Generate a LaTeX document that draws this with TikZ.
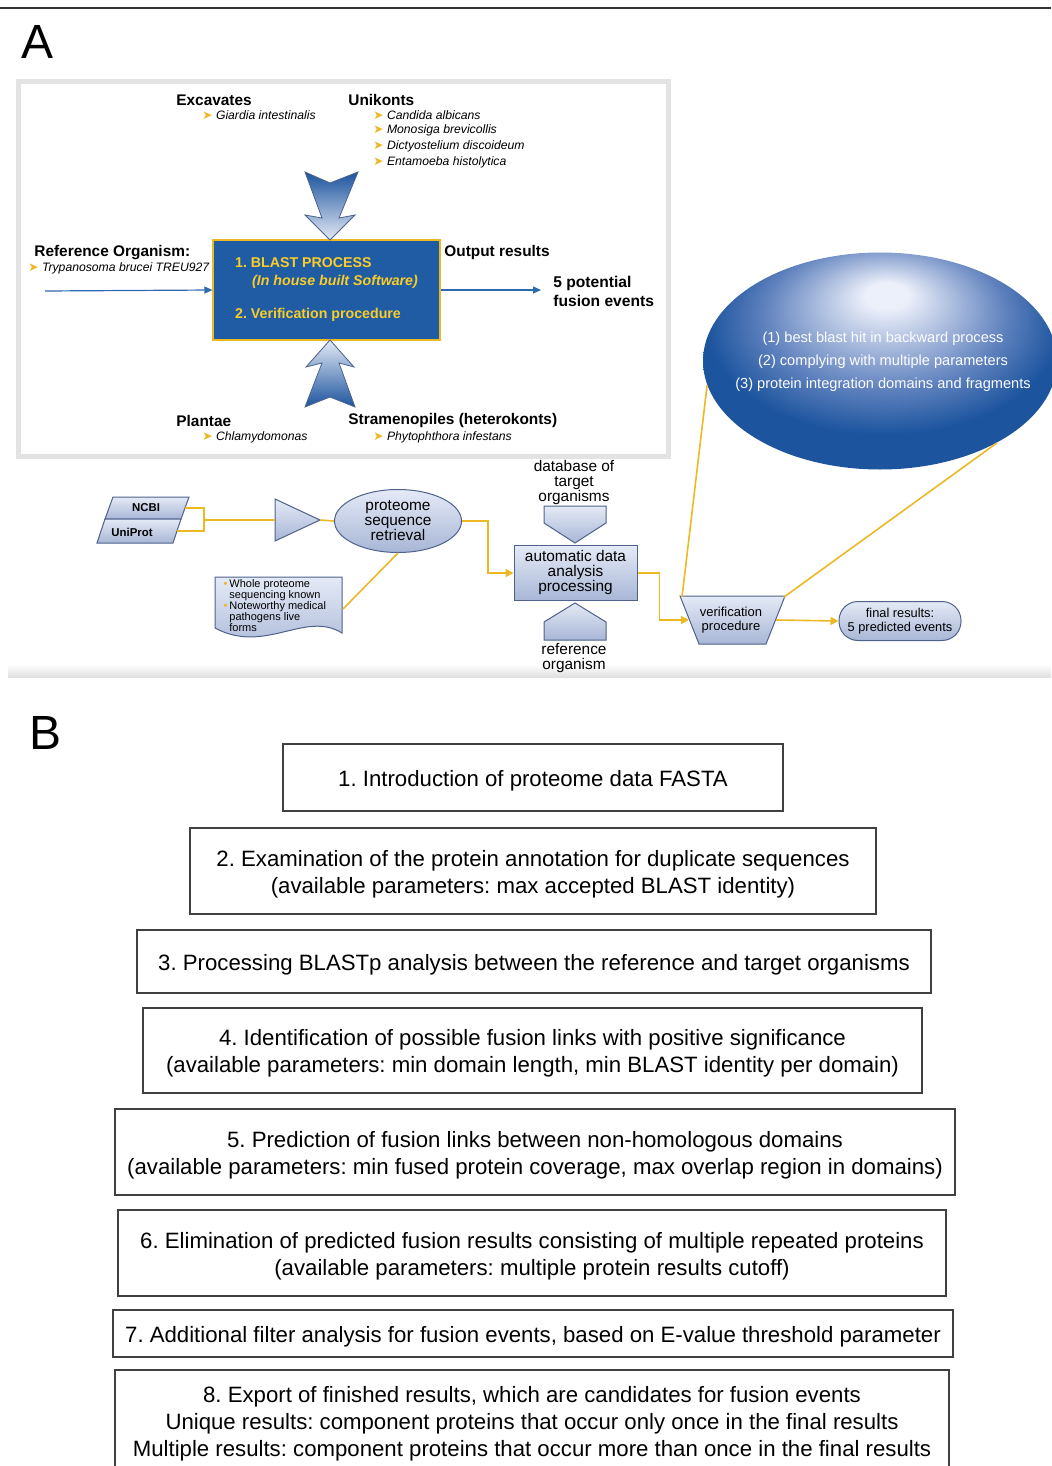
\documentclass[tikz,border=0pt]{standalone}
\usepackage{fontspec}
\setmainfont{Liberation Sans}
\newfontfamily\dingfont{DejaVu Sans}
\usetikzlibrary{shapes.geometric,arrows.meta}
\frenchspacing

\definecolor{blastblue}{RGB}{31,92,164}
\definecolor{deepblue}{RGB}{28,84,158}
\definecolor{softblue}{RGB}{96,130,190}
\definecolor{paleblue}{RGB}{228,234,246}
\definecolor{hiblue}{RGB}{236,240,250}
\definecolor{lightblue}{RGB}{176,192,224}
\definecolor{midblue}{RGB}{168,182,214}
\definecolor{edgeblue}{RGB}{78,98,140}
\definecolor{ylw}{RGB}{236,184,36}
\definecolor{boxyellow}{RGB}{250,204,40}
\definecolor{linkblue}{RGB}{45,105,175}

\newcommand\arr{{\upshape\dingfont\textcolor{ylw}{➤}}}
\newcommand\steplines[1]{\raisebox{-1.7pt}[\height][\depth]{\begin{tabular}{@{}c@{}}#1\end{tabular}}}

\pgfdeclareradialshading{blobshade}{\pgfpoint{1bp}{16bp}}{%
  color(0bp)=(hiblue); color(3bp)=(hiblue); color(9bp)=(lightblue);
  color(17bp)=(softblue); color(25bp)=(deepblue); color(50bp)=(deepblue)}

\begin{document}
\begin{tikzpicture}[x=0.5pt,y=-0.5pt,
  step box/.style={draw=black!75,line width=0.7pt,inner sep=0pt,
    font=\fontsize{11.1}{13.5}\selectfont},
  group head/.style={anchor=west,inner sep=0pt,font=\fontsize{7.7}{9}\selectfont\bfseries},
  group item/.style={anchor=west,inner sep=0pt,font=\fontsize{6.1}{7.8}\selectfont\itshape},
  flow shape/.style={draw=edgeblue,line width=0.5pt,top color=paleblue,bottom color=midblue},
  flow text/.style={inner sep=0pt,align=center,font=\fontsize{7.7}{7.5}\selectfont},
  ylw line/.style={draw=ylw,line width=0.8pt},
  ylw arrow/.style={ylw line,-{Triangle[length=4pt,width=4pt]}},
  blue link/.style={draw=linkblue,line width=0.6pt,-{Triangle[length=4pt,width=3.5pt]}}]

  \useasboundingbox (0,0) rectangle (1051,1466);
  \draw[black!80,line width=0.8pt] (0,8) -- (1051,8);
  \shade[top color=white,bottom color=black!12] (8,664) rectangle (1051,677);

  % panel A
  \node[font=\fontsize{24}{24}\selectfont,inner sep=0pt] (label a) at (38,42) {A};
  \draw[gray!22,line width=2.5pt] (18,82) rectangle (668,456);

  \node[group head] (excavates) at (176,100) {Excavates};
  \node[group item] (giardia) at (202,115) {\arr\ Giardia intestinalis};
  \node[group head] (unikonts) at (348,100) {Unikonts};
  \node[group item] (candida) at (373,115) {\arr\ Candida albicans};
  \node[group item] (monosiga) at (373,130) {\arr\ Monosiga brevicollis};
  \node[group item] (dicty) at (373,146) {\arr\ Dictyostelium discoideum};
  \node[group item] (entamoeba) at (373,162) {\arr\ Entamoeba histolytica};
  \node[group head] (reforg) at (34,253) {Reference Organism:};
  \node[group item] (trypano) at (28,268) {\arr\ Trypanosoma brucei TREU927};
  \node[group head] (outres) at (444,253) {Output results};
  \node[group head,align=left,font=\fontsize{7.8}{9.5}\selectfont\bfseries] (potential) at (553,291) {5 potential\\fusion events};
  \node[group head] (plantae) at (176,421) {Plantae};
  \node[group item] (chlamy) at (202,437) {\arr\ Chlamydomonas};
  \node[group head] (strameno) at (348,421) {Stramenopiles (heterokonts)};
  \node[group item] (phyto) at (373,437) {\arr\ Phytophthora infestans};

  \node[draw=ylw,line width=0.6pt,fill=blastblue,minimum width=113.5pt,minimum height=50pt,
    inner sep=0pt,text=boxyellow,align=left,font=\fontsize{7.1}{9}\selectfont\bfseries]
    (blast) at (326.5,290) {1. BLAST PROCESS\\\hspace*{8.5pt}\textit{(In house built Software)}\\[7.5pt]2. Verification procedure};

  \draw[edgeblue,line width=0.4pt,top color=deepblue,bottom color=paleblue]
    (305,172) -- (330,183) -- (358,172) -- (339,218) -- (355,215) -- (330,240)
    -- (305,215) -- (322,218) -- cycle;
  \draw[edgeblue,line width=0.4pt,top color=paleblue,bottom color=deepblue]
    (330,340) -- (354,367) -- (339,363) -- (355,407) -- (330,397) -- (305,407)
    -- (322,363) -- (306,367) -- cycle;

  \coordinate (ref in) at (45,291);
  \draw[blue link] (ref in) -- (blast.west);
  \draw[blue link,shorten >=6pt] (blast.east) -- (blast.east -| potential.west);

  % sources
  \draw[flow shape] (113,497) -- (189,497) -- (181,519) -- (105,519) -- cycle;
  \draw[flow shape] (105,519) -- (181,519) -- (173,543) -- (97,543) -- cycle;
  \node[flow text,font=\fontsize{5.7}{6}\selectfont\bfseries] (ncbi) at (146,508) {NCBI};
  \node[flow text,font=\fontsize{5.7}{6}\selectfont\bfseries] (uniprot) at (132,532) {UniProt};
  \coordinate (ncbi out) at (185,508);
  \coordinate (uniprot out) at (177,531);
  \coordinate (db join) at (204,520);
  \draw[ylw line] (ncbi out) -| (db join) |- (uniprot out);

  \draw[flow shape] (275,499) -- (320,520) -- (275,541) -- cycle;
  \coordinate (tri in) at (275,520);
  \coordinate (tri out) at (320,520);
  \draw[ylw line] (db join) -- (tri in);

  \node[ellipse,flow shape,minimum width=63.5pt,minimum height=31.5pt,flow text]
    (proteome) at (398,521) {proteome\\sequence\\retrieval};
  \draw[ylw line] (tri out) -- (proteome.west);

  \draw[flow shape] (215,577) -- (342,577) -- (342,633)
    .. controls (305,610) and (265,655) .. (215,628) -- cycle;
  \node[anchor=north west,inner sep=0pt,align=left,font=\fontsize{5.5}{5.5}\selectfont]
    (doc text) at (229,579) {\llap{\textcolor{ylw}{\textbullet}\,}Whole proteome\\sequencing known\\
    \llap{\textcolor{ylw}{\textbullet}\,}Noteworthy medical\\pathogens live\\forms};
  \coordinate (doc out) at (343,609);
  \draw[ylw line] (doc out) -- (proteome.south);

  % analysis
  \node[rectangle,flow shape,minimum width=61.5pt,minimum height=27.5pt,flow text]
    (auto) at (575.5,573) {automatic data\\analysis\\processing};
  \draw[ylw arrow] (proteome.east) -- ++(26,0) |- (auto.west);

  \draw[flow shape] (544,506) -- (606,506) -- (606,523) -- (575,543) -- (544,523) -- cycle;
  \node[flow text] (db text) at (574,483) {database of\\target\\organisms};
  \draw[flow shape] (544,640) -- (606,640) -- (606,622) -- (575,603) -- (544,622) -- cycle;
  \node[flow text] (ref text) at (574,658) {reference\\organism};

  \draw[flow shape] (680,596) -- (785,596) -- (766,644) -- (699,644) -- cycle;
  \coordinate (verif in) at (689,620);
  \coordinate (verif out) at (776,620);
  \coordinate (verif tl) at (682,597);
  \coordinate (verif tr) at (784,597);
  \node[flow text,font=\fontsize{6.5}{7}\selectfont] (verif) at (731,620) {verification\\procedure};
  \draw[ylw arrow] (auto.east) -- ++(22,0) |- (verif in);

  \node[flow shape,rounded corners=9.5pt,minimum width=61pt,minimum height=19.5pt,flow text,
    font=\fontsize{6.4}{7}\selectfont] (final) at (900,621) {final results:\\5 predicted events};
  \draw[ylw arrow] (verif out) -- (final.west);

  \node[ellipse,shade,shading=blobshade,minimum width=177pt,minimum height=108.5pt,inner sep=0pt]
    (blob) at (880,361) {};
  \node[text=white!92!paleblue,align=center,inner sep=0pt,font=\fontsize{7.3}{11.5}\selectfont]
    (blob text) at (883,362) {(1) best blast hit in backward process\\(2) complying with multiple parameters\\(3) protein integration domains and fragments};
  \draw[ylw line] (verif tl) -- (blob.188);
  \draw[ylw line] (verif tr) -- (blob.325);

  % panel B
  \node[font=\fontsize{24}{24}\selectfont,inner sep=0pt] (label b) at (46,733) {B};
  \node[step box,minimum width=250pt,minimum height=33.5pt] (step1) at (533,777.5)
    {\steplines{1. Introduction of proteome data FASTA}};
  \node[step box,minimum width=343pt,minimum height=43pt] (step2) at (533,871)
    {\steplines{2. Examination of the protein annotation for duplicate sequences\\(available parameters: max accepted BLAST identity)}};
  \node[step box,minimum width=397pt,minimum height=31.5pt] (step3) at (534,961.5)
    {\steplines{3. Processing BLASTp analysis between the reference and target organisms}};
  \node[step box,minimum width=389.5pt,minimum height=42.5pt] (step4) at (532.5,1050.5)
    {\steplines{4. Identification of possible fusion links with positive significance\\(available parameters: min domain length, min BLAST identity per domain)}};
  \node[step box,minimum width=420pt,minimum height=43pt] (step5) at (535,1152)
    {\steplines{5. Prediction of fusion links between non-homologous domains\\(available parameters: min fused protein coverage, max overlap region in domains)}};
  \node[step box,minimum width=414pt,minimum height=43pt] (step6) at (532,1253)
    {\steplines{6. Elimination of predicted fusion results consisting of multiple repeated proteins\\(available parameters: multiple protein results cutoff)}};
  \node[step box,minimum width=420pt,minimum height=23.5pt] (step7) at (533,1333.5)
    {\steplines{7. Additional filter analysis for fusion events, based on E-value threshold parameter}};
  \node[step box,minimum width=417pt,minimum height=51pt] (step8) at (532,1421)
    {\steplines{8. Export of finished results, which are candidates for fusion events\\Unique results: component proteins that occur only once in the final results\\Multiple results: component proteins that occur more than once in the final results}};
\end{tikzpicture}
\end{document}
